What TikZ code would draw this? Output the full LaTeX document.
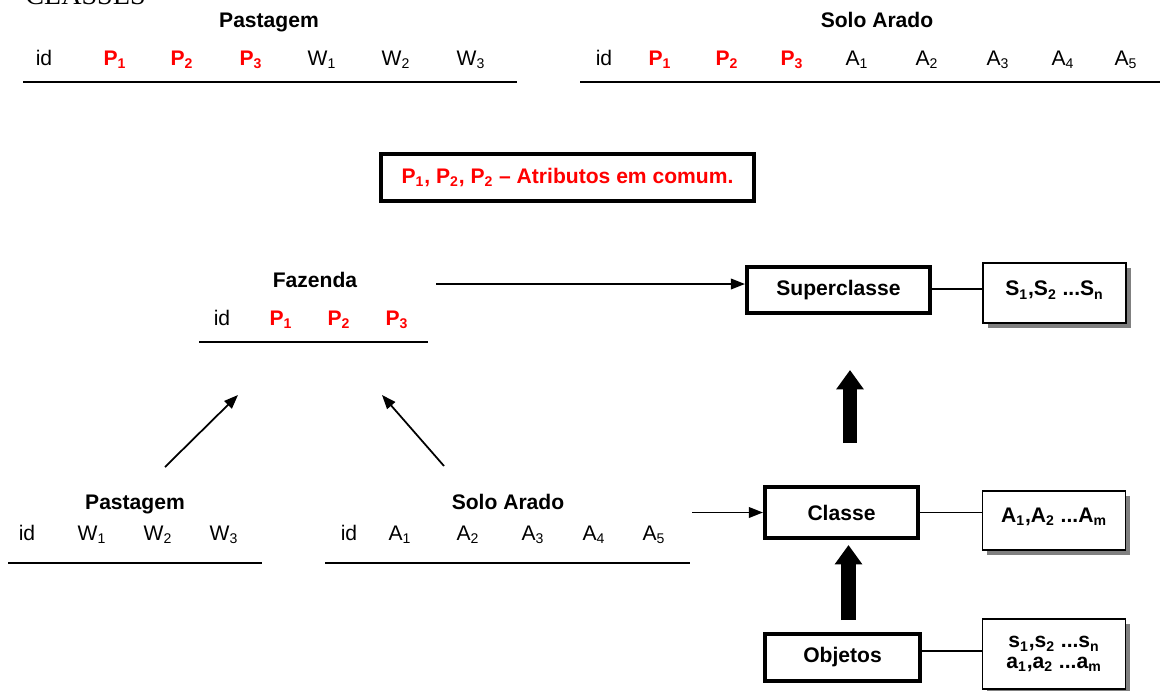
\documentclass[tikz,border=0pt]{standalone}
\usepackage{fontspec}
\setmainfont{Liberation Sans}
\newfontfamily\headfont{Liberation Serif}
\usetikzlibrary{arrows.meta, shadows}

\begin{document}
\begin{tikzpicture}[
         x=0.02cm, y=-0.02cm,
         title/.style={font=\fontsize{12}{14}\selectfont\bfseries, anchor=base, inner sep=0pt},
         attr/.style={font=\fontsize{12}{14}\selectfont, anchor=base, inner sep=0pt},
         common/.style={attr, font=\fontsize{12}{14}\selectfont\bfseries, red},
         tableline/.style={line width=1.5pt},
         classbox/.style={draw, line width=2.3pt, fill=white, font=\fontsize{12}{14}\selectfont\bfseries},
         attrbox/.style={draw, line width=1pt, fill=white, minimum width=2.86cm,
            font=\fontsize{12}{11.5}\selectfont\bfseries, align=center,
            general shadow={fill=gray, shadow xshift=2.8pt, shadow yshift=-2.8pt}},
         link/.style={line width=1pt},
         arrowline/.style={line width=1pt, -{Triangle[length=8pt,width=6pt]}},
         bigarrow/.style={line width=8pt, -{Triangle[length=11pt,width=15pt]}}
      ]
         \useasboundingbox (0,0) rectangle (1160,690);

         % Heading, cut at the top edge
         \node[anchor=base west, inner sep=0pt, font=\headfont\fontsize{16}{18}\selectfont] (classes) at (25,4) {CLASSES};

         % Table Pastagem (top)
         \node[title] (pt-title) at (269,27) {Pastagem};
         \node[attr] (pt-id) at (44,65) {id};
         \node[common] (pt-p1) at (115,65) {P\textsubscript{1}};
         \node[common] (pt-p2) at (182,65) {P\textsubscript{2}};
         \node[common] (pt-p3) at (251,65) {P\textsubscript{3}};
         \node[attr] (pt-w1) at (322,65) {W\textsubscript{1}};
         \node[attr] (pt-w2) at (396,65) {W\textsubscript{2}};
         \node[attr] (pt-w3) at (471,65) {W\textsubscript{3}};
         \draw[tableline] (23,82) -- (517,82);

         % Table Solo Arado (top)
         \node[title] (st-title) at (877,27) {Solo Arado};
         \node[attr] (st-id) at (604,65) {id};
         \node[common] (st-p1) at (660,65) {P\textsubscript{1}};
         \node[common] (st-p2) at (727,65) {P\textsubscript{2}};
         \node[common] (st-p3) at (792,65) {P\textsubscript{3}};
         \node[attr] (st-a1) at (857,65) {A\textsubscript{1}};
         \node[attr] (st-a2) at (927,65) {A\textsubscript{2}};
         \node[attr] (st-a3) at (998,65) {A\textsubscript{3}};
         \node[attr] (st-a4) at (1063,65) {A\textsubscript{4}};
         \node[attr] (st-a5) at (1126,65) {A\textsubscript{5}};
         \draw[tableline] (580,82) -- (1160,82);

         % Note on the common attributes
         \node[draw, line width=2.3pt, minimum width=7.46cm, minimum height=0.94cm,
            font=\fontsize{12}{14}\selectfont\bfseries, text=red] (note) at (567.5,177.5)
            {P\textsubscript{1}, P\textsubscript{2}, P\textsubscript{2} -- Atributos em comum.};

         % Table Fazenda
         \node[title] (fz-title) at (315,287) {Fazenda};
         \node[attr] (fz-id) at (222,325) {id};
         \node[common] (fz-p1) at (281,325) {P\textsubscript{1}};
         \node[common] (fz-p2) at (339,325) {P\textsubscript{2}};
         \node[common] (fz-p3) at (397,325) {P\textsubscript{3}};
         \draw[tableline] (199,342) -- (428,342);

         % Table Pastagem (bottom)
         \node[title] (pb-title) at (135,509) {Pastagem};
         \node[attr] (pb-id) at (27,540) {id};
         \node[attr] (pb-w1) at (92,540) {W\textsubscript{1}};
         \node[attr] (pb-w2) at (158,540) {W\textsubscript{2}};
         \node[attr] (pb-w3) at (224,540) {W\textsubscript{3}};
         \draw[tableline] (8,563) -- (262,563);

         % Table Solo Arado (bottom)
         \node[title] (sb-title) at (508,509) {Solo Arado};
         \node[attr] (sb-id) at (349,540) {id};
         \node[attr] (sb-a1) at (400,540) {A\textsubscript{1}};
         \node[attr] (sb-a2) at (468,540) {A\textsubscript{2}};
         \node[attr] (sb-a3) at (533,540) {A\textsubscript{3}};
         \node[attr] (sb-a4) at (594,540) {A\textsubscript{4}};
         \node[attr] (sb-a5) at (654,540) {A\textsubscript{5}};
         \draw[tableline] (325,563) -- (690,563);

         % Boxes for the levels
         \node[classbox, minimum width=3.66cm, minimum height=0.92cm] (super) at (838.5,290) {Superclasse};
         \node[classbox, minimum width=3.06cm, minimum height=1.02cm] (classe) at (841.5,512.5) {Classe};
         \node[classbox, minimum width=3.1cm, minimum height=0.94cm] (objetos) at (842.5,657.5) {Objetos};

         % Attribute boxes
         \node[attrbox, minimum height=1.2cm, text depth=5pt] (super-attr) at (1054.5,293)
            {S\textsubscript{1},S\textsubscript{2} ...S\textsubscript{n}};
         \node[attrbox, minimum height=1.18cm, text depth=6pt] (classe-attr) at (1054,520.5)
            {A\textsubscript{1},A\textsubscript{2} ...A\textsubscript{m}};
         \node[attrbox, minimum height=1.4cm] (objetos-attr) at (1054,654)
            {s\textsubscript{1},s\textsubscript{2} ...s\textsubscript{n}\\a\textsubscript{1},a\textsubscript{2} ...a\textsubscript{m}};

         \draw[link] (super.east |- 0,289) -- (super-attr.west |- 0,289);
         \draw[link] (classe.east) -- (classe-attr.west |- classe.east);
         \draw[link] (objetos.east |- 0,651) -- (objetos-attr.west |- 0,651);

         % Free ends of the arrows
         \coordinate (fz-out) at (436,284);
         \coordinate (sb-out) at (692,512.5);
         \coordinate (pb-up) at (165,467);
         \coordinate (fz-in1) at (238,395);
         \coordinate (sb-up) at (444,466);
         \coordinate (fz-in2) at (382,395);
         \coordinate (classe-up) at (850,443);
         \coordinate (super-in) at (850,370);
         \coordinate (objetos-up) at (848.5,620);
         \coordinate (classe-in) at (848.5,545);

         % Arrows
         \draw[arrowline] (fz-out) -- (super.west |- fz-out);
         \draw[arrowline] (sb-out) -- (classe.west);
         \draw[arrowline] (pb-up) -- (fz-in1);
         \draw[arrowline] (sb-up) -- (fz-in2);
         \draw[bigarrow] (classe-up) -- (super-in);
         \draw[bigarrow] (objetos-up) -- (classe-in);

      \end{tikzpicture}
\end{document}
